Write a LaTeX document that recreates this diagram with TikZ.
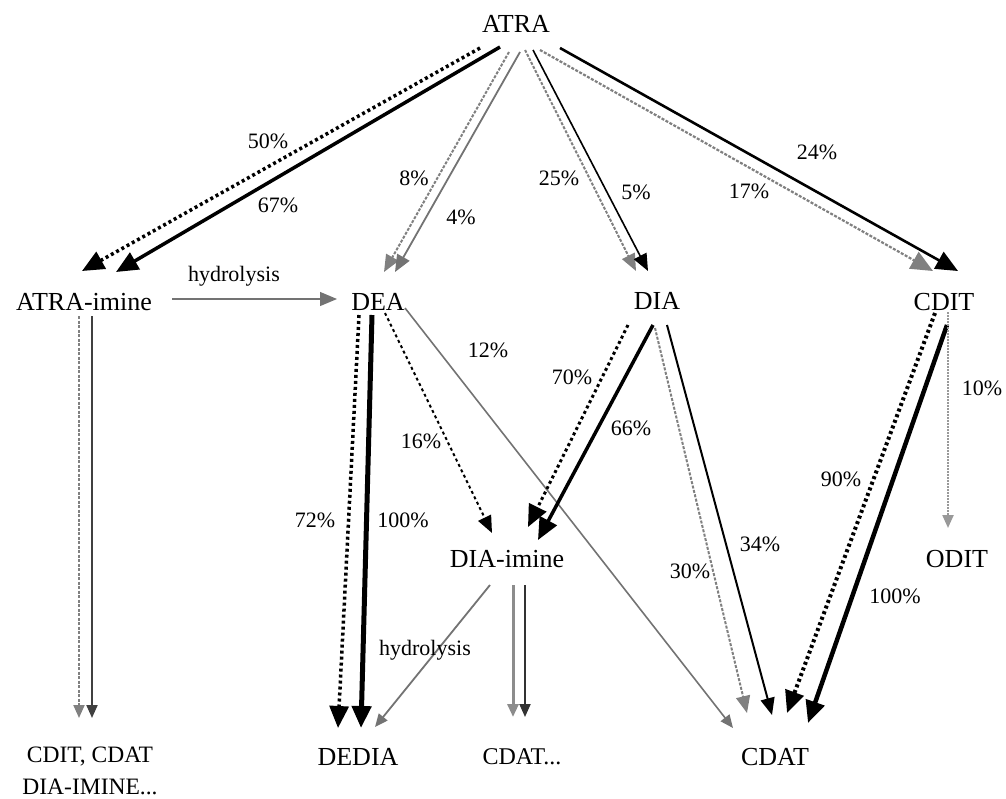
\documentclass[tikz,border=0pt]{standalone}
\usepackage{fontspec}
\setmainfont{Liberation Serif}
\usetikzlibrary{arrows.meta,calc}
\begin{document}
\begin{tikzpicture}[x=1pt,y=-1pt,
  nm/.style={font=\fontsize{26}{30}\selectfont, inner sep=0pt},
  lb/.style={font=\fontsize{22}{26}\selectfont, inner sep=0pt},
  bigtip/.style={-{Triangle[length=22pt,width=19pt]}},
  midtip/.style={-{Triangle[length=17pt,width=14pt]}},
  smalltip/.style={-{Triangle[length=13pt,width=11pt]}},
  solidln/.style={line width=#1, black},
  dotln/.style={line width=#1, black, dash pattern=on 3pt off 3pt},
  grayln/.style={line width=#1, black!55},
  graydash/.style={line width=#1, black!50, dash pattern=on 3pt off 1.5pt}
]
\useasboundingbox (0,0) rectangle (1006,798);

% nodes
\node[nm] (atra) at (516,24) {ATRA};
\node[nm] (ai) at (84,302) {ATRA-imine};
\node[nm] (dea) at (378,302) {DEA};
\node[nm] (dia) at (657,301) {DIA};
\node[nm] (cdit) at (944,302) {CDIT};
\node[nm] (dii) at (507,559) {DIA-imine};
\node[nm] (odit) at (957,559) {ODIT};
\node[lb, align=center, font=\fontsize{23.5}{32}\selectfont] (mix) at (90,771) {CDIT, CDAT\\DIA-IMINE...};
\node[nm] (dedia) at (358,757) {DEDIA};
\node[lb, font=\fontsize{24}{28}\selectfont] (cdat1) at (522,757) {CDAT...};
\node[nm] (cdat) at (775,757) {CDAT};

% ATRA -> ATRA-imine
\draw[dotln=3.5, bigtip] ($(atra)+(-36,24)$) -- ($(ai)+(-2,-31)$);
\draw[solidln=3.5, bigtip] ($(atra)+(-16,23)$) -- ($(ai)+(32,-30)$);
% ATRA -> DEA
\draw[graydash=2, midtip] ($(atra)+(-7,28)$) -- ($(dea)+(6,-30)$);
\draw[grayln=1.8, midtip] ($(atra)+(4,28)$) -- ($(dea)+(17,-30)$);
% ATRA -> DIA
\draw[graydash=2, midtip] ($(atra)+(9,26)$) -- ($(dia)+(-21,-30)$);
\draw[solidln=1.6, midtip] ($(atra)+(17,26)$) -- ($(dia)+(-9,-30)$);
% ATRA -> CDIT
\draw[graydash=2.2, bigtip] ($(atra)+(24,26)$) -- ($(cdit)+(-11,-31)$);
\draw[solidln=2.6, bigtip] ($(atra)+(44,24)$) -- ($(cdit)+(14,-31)$);

% ATRA-imine -> DEA (hydrolysis)
\draw[grayln=1.2, midtip] ($(ai)+(88,-3)$) -- ($(dea)+(-41,-3)$);
% ATRA-imine -> mix
\draw[graydash=2, smalltip] ($(ai)+(-5,14)$) -- ($(mix)+(-11,-53)$);
\draw[line width=2, black!75, smalltip] ($(ai)+(8,14)$) -- ($(mix)+(2,-53)$);

% DEA -> DEDIA
\draw[dotln=3.5, bigtip] ($(dea)+(-19,13)$) -- ($(dedia)+(-20,-29)$);
\draw[solidln=5, bigtip] ($(dea)+(-6,13)$) -- ($(dedia)+(3,-29)$);
% DEA -> DIA-imine
\draw[dotln=2, midtip] ($(dea)+(7,11)$) -- ($(dii)+(-15,-26)$);
% DEA -> CDAT
\draw[grayln=1.6, smalltip] ($(dea)+(27,6)$) -- ($(cdat)+(-42,-29)$);

% DIA -> DIA-imine
\draw[dotln=3, bigtip] ($(dia)+(-29,24)$) -- ($(dii)+(21,-32)$);
\draw[solidln=3.5, bigtip] ($(dia)+(-4,24)$) -- ($(dii)+(31,-19)$);
% DIA -> CDAT
\draw[graydash=2, midtip] ($(dia)+(-2,27)$) -- ($(cdat)+(-28,-44)$);
\draw[solidln=2, midtip] ($(dia)+(10,24)$) -- ($(cdat)+(-3,-42)$);

% CDIT -> CDAT
\draw[dotln=4, bigtip] ($(cdit)+(-9,11)$) -- ($(cdat)+(12,-44)$);
\draw[solidln=4.5, bigtip] ($(cdit)+(3,23)$) -- ($(cdat)+(33,-34)$);
% CDIT -> ODIT
\draw[line width=2.2, black!40, dash pattern=on 2pt off 1pt, smalltip] ($(cdit)+(4,10)$) -- ($(odit)+(-9,-31)$);

% DIA-imine -> DEDIA (hydrolysis)
\draw[grayln=1.8, smalltip] ($(dii)+(-17,26)$) -- ($(dedia)+(17,-30)$);
% DIA-imine -> CDAT...
\draw[line width=3, black!45, smalltip] ($(dii)+(6,26)$) -- ($(cdat1)+(-9,-40)$);
\draw[line width=2, black!80, smalltip] ($(dii)+(18,26)$) -- ($(cdat1)+(3,-40)$);

% labels
\node[lb] (l50) at (268,141) {50\%};
\node[lb] (l67) at (278,205) {67\%};
\node[lb] (l8) at (414,178) {8\%};
\node[lb] (l4) at (461,217) {4\%};
\node[lb] (l25) at (559,178) {25\%};
\node[lb] (l5) at (636,192) {5\%};
\node[lb] (l17) at (749,191) {17\%};
\node[lb] (l24) at (817,152) {24\%};
\node[lb] (lh1) at (234,276) {hydrolysis};
\node[lb] (l12) at (488,350) {12\%};
\node[lb] (l16) at (421,441) {16\%};
\node[lb] (l72) at (315,520) {72\%};
\node[lb] (l100a) at (403,520) {100\%};
\node[lb] (l70) at (572,377) {70\%};
\node[lb] (l66) at (631,428) {66\%};
\node[lb] (l90) at (841,479) {90\%};
\node[lb] (l10) at (982,388) {10\%};
\node[lb] (l34) at (760,544) {34\%};
\node[lb] (l30) at (690,571) {30\%};
\node[lb] (l100b) at (895,596) {100\%};
\node[lb] (lh2) at (425,650) {hydrolysis};
\end{tikzpicture}
\end{document}
